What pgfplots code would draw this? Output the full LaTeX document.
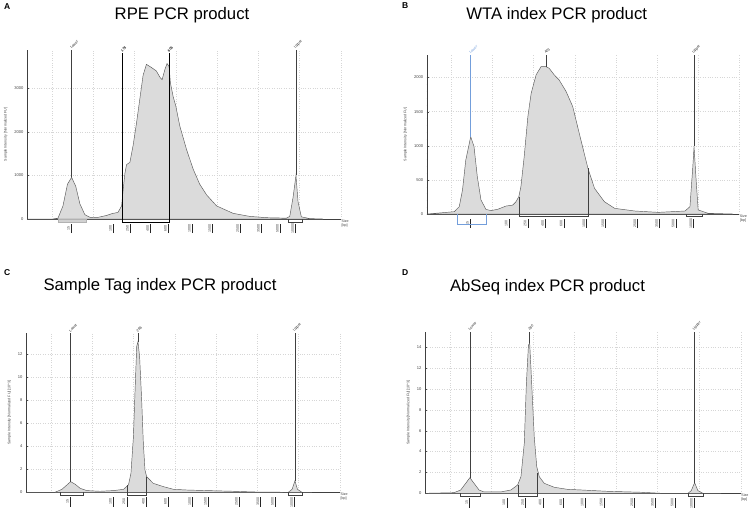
\documentclass[border=0pt]{standalone}
\usepackage{pgfplots}
\pgfplotsset{compat=1.18}
\usepackage{fontspec}
\setmainfont{Liberation Sans}
\newcommand\tinyf{\fontsize{3.6}{4}\selectfont}
\newcommand\smallf{\fontsize{4.1}{4.5}\selectfont}
% ladder label: rotated size text with a short bar to its right
\newcommand\lad[1]{$\vcenter{\hbox{\rotatebox{90}{#1}}}\kern1.3pt\vcenter{\hbox{\color{black!85}\rule{0.5pt}{9.5pt}}}$}
\definecolor{lowblue}{rgb}{0.45,0.62,0.86}

\tikzset{
  toplab/.style={rotate=45, anchor=south west, font=\tinyf, inner sep=0.6pt, black!85},
  sizelab/.style={anchor=north west, align=left, font=\tinyf, inner sep=0.5pt, black!75},
}
\pgfplotsset{
  elec/.style={
    scale only axis, clip=false,
    xmin=0.4, xmax=8, ymin=0,
    axis x line*=bottom, axis y line*=left,
    axis line style={black!75, -},
    xtick={1,...,8}, xticklabels={},
    xmajorgrids, ymajorgrids,
    grid style={dotted, black!16},
    major x tick style={draw=none},
    tick style={black!70},
    major tick length=2pt, minor tick length=1.2pt,
    yticklabel style={font=\smallf, black!75},
    ylabel style={font=\tinyf, black!75},
    /pgf/number format/assume math mode=true,
    /pgf/number format/1000 sep={},
    extra x tick style={grid=none, major tick length=0pt,
      xticklabel style={anchor=north east, inner sep=0pt, yshift=-4.5pt, font=\tinyf, black!75}},
  },
  curve/.style={draw=black!65, line width=0.45pt, fill=black!14},
  mark line/.style={black!75, line width=0.45pt},
  box line/.style={black!75, line width=0.5pt},
}

\begin{document}
\begin{tikzpicture}
\path[use as bounding box] (0pt,0pt) rectangle (749pt,-514pt);

% titles and panel letters
\node[anchor=base, font=\fontsize{16.7}{18}\selectfont] at (182pt,-19pt) {RPE PCR product};
\node[anchor=base, font=\fontsize{16.7}{18}\selectfont] at (556.7pt,-19pt) {WTA index PCR product};
\node[anchor=base, font=\fontsize{16.7}{18}\selectfont] at (160pt,-290.7pt) {Sample Tag index PCR product};
\node[anchor=base, font=\fontsize{16.7}{18}\selectfont] at (547.5pt,-291.7pt) {AbSeq index PCR product};
\node[anchor=base west, inner sep=0pt, font=\bfseries\fontsize{8.5}{9}\selectfont] at (4pt,-9.3pt) {A};
\node[anchor=base west, inner sep=0pt, font=\bfseries\fontsize{8.5}{9}\selectfont] at (402pt,-8.5pt) {B};
\node[anchor=base west, inner sep=0pt, font=\bfseries\fontsize{8.5}{9}\selectfont] at (4pt,-275pt) {C};
\node[anchor=base west, inner sep=0pt, font=\bfseries\fontsize{8.5}{9}\selectfont] at (402pt,-275pt) {D};

% ---------------- A
\begin{axis}[elec, at={(27pt,-219pt)}, anchor=south west,
  width=314pt, height=169pt, ymax=3880,
  ytick={0,1000,2000,3000}, minor y tick num=4,
  ylabel={Sample Intensity [Normalized FU]},
  extra x ticks={1.48,2.50,2.91,3.40,3.83,4.41,4.90,5.58,6.08,6.54,6.91},
  extra x tick labels={\lad{15},\lad{100},\lad{250},\lad{400},\lad{600},\lad{1000},\lad{1500},\lad{2500},\lad{3500},\lad{5000},\lad{10000}}]
\addplot[curve] coordinates {
 (0.4,0) (1.02,0) (1.15,20) (1.27,300) (1.38,800) (1.48,957) (1.58,750) (1.68,350)
 (1.80,100) (1.92,40) (2.08,30) (2.32,80) (2.48,130) (2.60,150) (2.69,300) (2.73,700)
 (2.77,1050) (2.81,1250) (2.89,1300) (2.97,1700) (3.05,2200) (3.13,2750) (3.21,3300)
 (3.29,3550) (3.41,3480) (3.53,3400) (3.62,3250) (3.67,3200) (3.74,3440) (3.79,3570)
 (3.84,3500) (3.87,3130) (3.94,2800) (4.00,2600) (4.10,2130) (4.26,1600) (4.42,1150)
 (4.58,800) (4.75,550) (4.99,300) (5.39,130) (5.79,60) (6.20,30) (6.68,20) (6.76,60)
 (6.84,500) (6.91,1000) (6.96,400) (7.04,50) (7.24,10) (7.57,0)} \closedcycle;
\addplot[fill=black!18, draw=black!30] coordinates {(1.15,0) (1.84,0) (1.84,-70) (1.15,-70)} -- cycle;
\addplot[box line] coordinates {(6.72,0) (6.72,-70) (7.07,-70) (7.07,0)};
\addplot[mark line] coordinates {(1.48,957) (1.48,3880)};
\addplot[mark line] coordinates {(6.91,1000) (6.91,3880)};
\addplot[black, line width=1.1pt] coordinates {(2.71,3800) (2.71,-70) (3.84,-70) (3.84,3800)};
\node[toplab] at (axis cs:1.48,3880) {Lower};
\node[toplab] at (axis cs:2.71,3800) {\bfseries 178};
\node[toplab] at (axis cs:3.84,3800) {\bfseries 606};
\node[toplab] at (axis cs:6.91,3880) {Upper};
\node[sizelab] at (axis cs:8,0) {Size\\{[bp]}};
\end{axis}

% ---------------- B
\begin{axis}[elec, at={(426.7pt,-214pt)}, anchor=south west,
  width=312.6pt, height=159pt, ymax=2331,
  ytick={0,500,1000,1500,2000}, minor y tick num=4,
  ylabel={Sample Intensity [Normalized FU]},
  extra x ticks={1.47,2.41,2.87,3.30,3.75,4.30,4.76,5.54,6.07,6.47,6.90},
  extra x tick labels={\lad{15},\lad{100},\lad{250},\lad{400},\lad{600},\lad{1000},\lad{1500},\lad{2500},\lad{3500},\lad{5000},\lad{10000}}]
\addplot[curve] coordinates {
 (0.42,0) (1.07,34) (1.19,107) (1.27,350) (1.35,790) (1.47,1134) (1.55,990) (1.63,550)
 (1.72,205) (1.84,68) (1.96,50) (2.12,68) (2.33,117) (2.49,130) (2.57,180) (2.64,255)
 (2.69,400) (2.77,840) (2.86,1430) (2.94,1770) (3.06,2040) (3.18,2160) (3.30,2160)
 (3.38,2135) (3.50,2040) (3.62,1965) (3.79,1795) (3.95,1575) (4.11,1180) (4.32,670)
 (4.48,376) (4.72,180) (4.97,83) (5.46,44) (6.03,24) (6.68,44) (6.80,107) (6.87,694)
 (6.90,990) (6.95,500) (7.00,60) (7.24,10) (7.85,0)} \closedcycle;
\addplot[draw=lowblue, line width=0.45pt] coordinates {(1.15,0) (1.15,-147) (1.84,-147) (1.84,0)};
\addplot[draw=lowblue, line width=0.45pt] coordinates {(1.47,1134) (1.47,2331)};
\addplot[box line] coordinates {(6.71,0) (6.71,-39) (7.10,-39) (7.10,0)};
\addplot[box line] coordinates {(2.64,255) (2.64,-39) (4.32,-39) (4.32,670)};
\addplot[mark line] coordinates {(3.30,2160) (3.30,2331)};
\addplot[mark line] coordinates {(6.90,990) (6.90,2331)};
\node[toplab, text=lowblue] at (axis cs:1.47,2331) {Lower};
\node[toplab] at (axis cs:3.30,2331) {403};
\node[toplab] at (axis cs:6.90,2331) {Upper};
\node[sizelab] at (axis cs:8,0) {Size\\{[bp]}};
\end{axis}

% ---------------- C
\begin{axis}[elec, at={(26pt,-492.3pt)}, anchor=south west,
  width=314pt, height=159pt, ymax=13.83,
  ytick={0,2,...,12}, minor y tick num=1,
  ylabel={Sample Intensity [Normalized FU] [10\textasciicircum 3]},
  extra x ticks={1.48,2.52,2.85,3.32,3.85,4.44,4.82,5.57,6.09,6.44,6.91},
  extra x tick labels={\lad{15},\lad{100},\lad{250},\lad{400},\lad{600},\lad{1000},\lad{1500},\lad{2500},\lad{3500},\lad{5000},\lad{10000}}]
\addplot[curve] coordinates {
 (0.41,0) (1.10,0) (1.27,0.26) (1.39,0.64) (1.48,0.93) (1.59,0.70) (1.71,0.35) (1.87,0.15)
 (2.19,0.09) (2.52,0.15) (2.76,0.26) (2.88,0.64) (2.94,1.65) (3.00,4.84) (3.04,8.9)
 (3.08,12.7) (3.11,13.1) (3.15,11.8) (3.20,8.0) (3.24,4.26) (3.28,1.94) (3.32,1.36)
 (3.48,0.78) (3.73,0.49) (3.97,0.26) (4.29,0.20) (4.78,0.15) (5.42,0.09) (5.91,0.03)
 (6.75,0) (6.84,0.26) (6.91,1.0) (6.97,0.26) (7.08,0) (7.32,0)} \closedcycle;
\addplot[box line] coordinates {(1.23,0) (1.23,-0.23) (1.79,-0.23) (1.79,0)};
\addplot[box line] coordinates {(6.75,0) (6.75,-0.23) (7.09,-0.23) (7.09,0)};
\addplot[box line] coordinates {(2.85,0.64) (2.85,-0.23) (3.32,-0.23) (3.32,1.36)};
\addplot[mark line] coordinates {(1.48,0.93) (1.48,13.83)};
\addplot[mark line] coordinates {(3.11,13.1) (3.11,13.83)};
\addplot[mark line] coordinates {(6.91,1.0) (6.91,13.83)};
\node[toplab] at (axis cs:1.48,13.83) {Lower};
\node[toplab] at (axis cs:3.11,13.83) {286};
\node[toplab] at (axis cs:6.91,13.83) {Upper};
\node[sizelab] at (axis cs:8,0) {Size\\{[bp]}};
\end{axis}

% ---------------- D
\begin{axis}[elec, at={(425pt,-493.3pt)}, anchor=south west,
  width=315.7pt, height=161.6pt, ymax=15.49,
  ytick={0,2,...,14}, minor y tick num=1,
  ylabel={Sample Intensity [Normalized FU] [10\textasciicircum 3]},
  extra x ticks={1.48,2.38,2.83,3.25,3.75,4.26,4.72,5.46,5.95,6.43,6.89},
  extra x tick labels={\lad{15},\lad{100},\lad{250},\lad{400},\lad{600},\lad{1000},\lad{1500},\lad{2500},\lad{3500},\lad{5000},\lad{10000}}]
\addplot[curve] coordinates {
 (0.41,0) (1.10,0.06) (1.26,0.32) (1.38,0.96) (1.48,1.50) (1.58,0.96) (1.70,0.32)
 (1.82,0.13) (2.22,0.13) (2.47,0.32) (2.63,0.8) (2.71,1.6) (2.79,4.8) (2.84,10.5)
 (2.89,14.2) (2.92,14.4) (2.96,11.2) (3.03,5.4) (3.09,2.56) (3.15,1.6) (3.27,0.96)
 (3.51,0.58) (3.83,0.38) (4.16,0.32) (4.80,0.19) (5.61,0.10) (6.09,0) (6.73,0)
 (6.81,0.26) (6.89,1.02) (6.97,0.26) (7.09,0) (7.53,0)} \closedcycle;
\addplot[box line] coordinates {(1.24,0) (1.24,-0.26) (1.72,-0.26) (1.72,0)};
\addplot[box line] coordinates {(6.73,0) (6.73,-0.26) (7.09,-0.26) (7.09,0)};
\addplot[box line] coordinates {(2.64,0.8) (2.64,-0.26) (3.11,-0.26) (3.11,1.9)};
\addplot[mark line] coordinates {(1.48,1.50) (1.48,15.49)};
\addplot[mark line] coordinates {(2.92,14.4) (2.92,15.49)};
\addplot[mark line] coordinates {(6.89,1.02) (6.89,15.49)};
\node[toplab] at (axis cs:1.48,15.49) {Lower};
\node[toplab] at (axis cs:2.92,15.49) {280};
\node[toplab] at (axis cs:6.89,15.49) {Upper};
\node[sizelab] at (axis cs:8,0) {Size\\{[bp]}};
\end{axis}
\end{tikzpicture}
\end{document}
